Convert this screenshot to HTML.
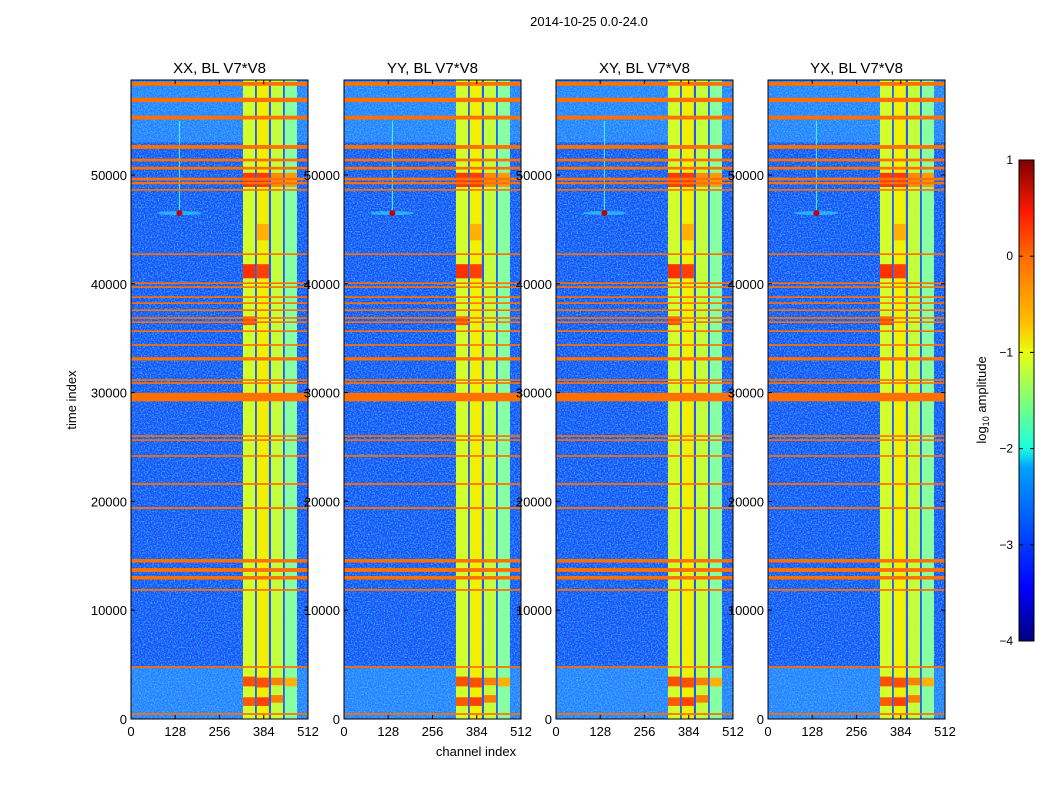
<!DOCTYPE html>
<html><head><meta charset="utf-8"><style>
html,body{margin:0;padding:0;background:#fff;width:1050px;height:800px;overflow:hidden}
svg{display:block;font-family:"Liberation Sans",sans-serif}
</style></head><body>
<svg id="fig" width="1050" height="800" viewBox="0 0 1050 800" xmlns="http://www.w3.org/2000/svg">
<defs>
<filter id="noise" x="0" y="0" width="100%" height="100%">
<feTurbulence type="fractalNoise" baseFrequency="0.7" numOctaves="2" seed="3" result="t"/>
<feColorMatrix in="t" type="matrix" values="0 0 0 0 0.05  0 0 0 0 0.75  0 0 0 0 1  0 0 0 2.2 -0.95"/>
</filter>
<linearGradient id="jet" x1="0" y1="1" x2="0" y2="0">
<stop offset="0" stop-color="#00007f"/><stop offset="0.11" stop-color="#0000ff"/>
<stop offset="0.36" stop-color="#00a0ff"/><stop offset="0.4" stop-color="#18ffe0"/>
<stop offset="0.6" stop-color="#e8ff10"/><stop offset="0.66" stop-color="#ffc000"/>
<stop offset="0.8" stop-color="#ff6a00"/><stop offset="0.89" stop-color="#ff1a00"/>
<stop offset="1" stop-color="#800000"/>
</linearGradient>
</defs>
<text x="589" y="26" font-size="13" text-anchor="middle">2014-10-25 0.0-24.0</text>
<g id="panels"></g>
<g>
<rect x="1019" y="160" width="15" height="481" fill="url(#jet)" stroke="#000" stroke-width="1"/>
<g id="cbticks"></g>
<text transform="translate(986,400) rotate(-90)" font-size="13" text-anchor="middle">log<tspan font-size="9" dy="3">10</tspan><tspan dy="-3"> amplitude</tspan></text>
</g>
<text x="476" y="756" font-size="13" text-anchor="middle">channel index</text>
<text transform="translate(76,400) rotate(-90)" font-size="13" text-anchor="middle">time index</text>
</svg>
<script>
const panelTitles = ["XX, BL V7*V8","YY, BL V7*V8","XY, BL V7*V8","YX, BL V7*V8"];
const xTicks = [0,128,256,384,512];
const yTicks = [0,10000,20000,30000,40000,50000];
const cbTicks = [1,0,-1,-2,-3,-4];
const tMax = 58730;
const flagStart = [58200,56700,55100,52400,51250,50500,49500,49150,48550,42650,39980,39620,38700,38150,37500,36780,36400,35570,34300,32950,31080,30800,29200,25930,25560,24100,21520,19300,14380,13520,12820,11780,4700,380];
const flagEnd   = [58550,57100,55450,52750,51500,50750,49750,49350,48700,42800,40130,39770,38850,38300,37650,36930,36550,35720,34450,33250,31230,30950,29980,26080,25710,24250,21680,19470,14700,13870,13140,11940,4860,540];
const bandStart = [324,364,405,445];
const bandEnd   = [359,399,440,480];
const bandColor = ["#d2ff2c","#f0f000","#c4ff3c","#88ffa0"];
const hotBand  = [0,1,2,3,0,1,0,1,2,0,1,2,3,0,1];
const hotStart = [48900,48900,48900,48900,40500,40500,1200,1200,1500,3000,2900,3100,3000,36200,44000];
const hotEnd   = [50200,50200,50200,50200,41800,41800,2000,2000,2200,3900,3800,3800,3800,37000,45500];
const hotColor = ["#ff3a00","#ff3a00","#ff8a00","#ff9a00","#ff3000","#ff4000","#ff5a00","#ff4000","#ff8000","#ff5000","#ff5000","#ff8000","#ffb000","#ff5000","#ffb000"];
const lightStart = [53000,0];
const lightEnd   = [58700,4700];
const spikeCh = 140, spikeT = 46500;

const panelX = [131,344,556,768], panelW = 177, plotTop = 80, plotBot = 719;
const sy = t => plotBot - (t / tMax) * (plotBot - plotTop);
const NS = "http://www.w3.org/2000/svg";
function mk(tag, attrs, parent){const e=document.createElementNS(NS,tag);for(const k in attrs)e.setAttribute(k,attrs[k]);parent.appendChild(e);return e;}
const root = document.getElementById('panels');
panelX.forEach((px,pi)=>{
  const sx = c => px + c / 512 * panelW;
  const g = mk('g',{},root);
  
  
  const bg = mk('rect',{x:px,y:plotTop,width:panelW,height:plotBot-plotTop,fill:'#1a50f8'},g);
  
  
  lightStart.forEach((s,i)=>{
    const r = mk('rect',{x:px,y:sy(lightEnd[i]),width:panelW,height:sy(s)-sy(lightEnd[i]),fill:'#2c7cff'},g);
    
    
  });
  mk('rect',{x:px,y:plotTop,width:panelW,height:plotBot-plotTop,filter:'url(#noise)',opacity:0.9},g);
  bandStart.forEach((s,i)=>{
    const r = mk('rect',{x:sx(s),y:plotTop,width:sx(bandEnd[i])-sx(s),height:plotBot-plotTop,fill:bandColor[i]},g);
    
    
    if (i < bandStart.length-1) {
      const gp = mk('rect',{x:sx(bandEnd[i]),y:plotTop,width:sx(bandStart[i+1])-sx(bandEnd[i]),height:plotBot-plotTop,fill:'#1e5aff'},g);
      
      
    }
  });
  hotBand.forEach((b,i)=>{
    const r = mk('rect',{x:sx(bandStart[b]),y:sy(hotEnd[i]),width:sx(bandEnd[b])-sx(bandStart[b]),height:sy(hotStart[i])-sy(hotEnd[i]),fill:hotColor[i]},g);
    
    
  });
  const sl = mk('line',{x1:sx(spikeCh),x2:sx(spikeCh),y1:sy(55000),y2:sy(spikeT),stroke:'#40ffc0','stroke-width':1},g);
  
  
  const sh = mk('ellipse',{cx:sx(spikeCh),cy:sy(spikeT),rx:22,ry:2,fill:'#30e0ff',opacity:0.6},g);
  
  
  const sp = mk('circle',{cx:sx(spikeCh),cy:sy(spikeT),r:3,fill:'#c00000'},g);
  
  
  flagStart.forEach((s,i)=>{
    const h = Math.max(1.6, sy(s)-sy(flagEnd[i]));
    const r = mk('rect',{x:px,y:sy(flagEnd[i]),width:panelW,height:h,fill:'#ff7000'},g);
    
    
  });
  const fr = mk('rect',{x:px,y:plotTop,width:panelW,height:plotBot-plotTop,fill:'none',stroke:'#000','stroke-width':1},g);
  
  
  const tt = mk('text',{x:px+panelW/2,y:73,'font-size':15,'text-anchor':'middle'},g);
  tt.textContent = panelTitles[pi];
  
  
  xTicks.forEach(c=>{
    mk('line',{x1:sx(c),x2:sx(c),y1:plotBot,y2:plotBot-4,stroke:'#000'},g);
    mk('line',{x1:sx(c),x2:sx(c),y1:plotTop,y2:plotTop+4,stroke:'#000'},g);
    const t = mk('text',{x:sx(c),y:plotBot+17,'font-size':13,'text-anchor':'middle'},g);
    t.textContent = c;
    
    
  });
  yTicks.forEach(v=>{
    mk('line',{x1:px,x2:px+4,y1:sy(v),y2:sy(v),stroke:'#000'},g);
    mk('line',{x1:px+panelW,x2:px+panelW-4,y1:sy(v),y2:sy(v),stroke:'#000'},g);
  });
});
panelX.forEach(px=>{
  yTicks.forEach(v=>{
    const t = mk('text',{x:px-4,y:sy(v)+5,'font-size':13,'text-anchor':'end'},root);
    t.textContent = v;
    
    
  });
});
const cb = document.getElementById('cbticks');
const cy = v => 641 - (v + 4) / 5 * 481;
cbTicks.forEach(v=>{
  mk('line',{x1:1019,x2:1023,y1:cy(v),y2:cy(v),stroke:'#000'},cb);
  mk('line',{x1:1034,x2:1030,y1:cy(v),y2:cy(v),stroke:'#000'},cb);
  const t = mk('text',{x:1013,y:cy(v)+4,'font-size':12,'text-anchor':'end'},cb);
  t.textContent = v < 0 ? '\u2212' + (-v) : v;
  
  
});
</script>
</body></html>
